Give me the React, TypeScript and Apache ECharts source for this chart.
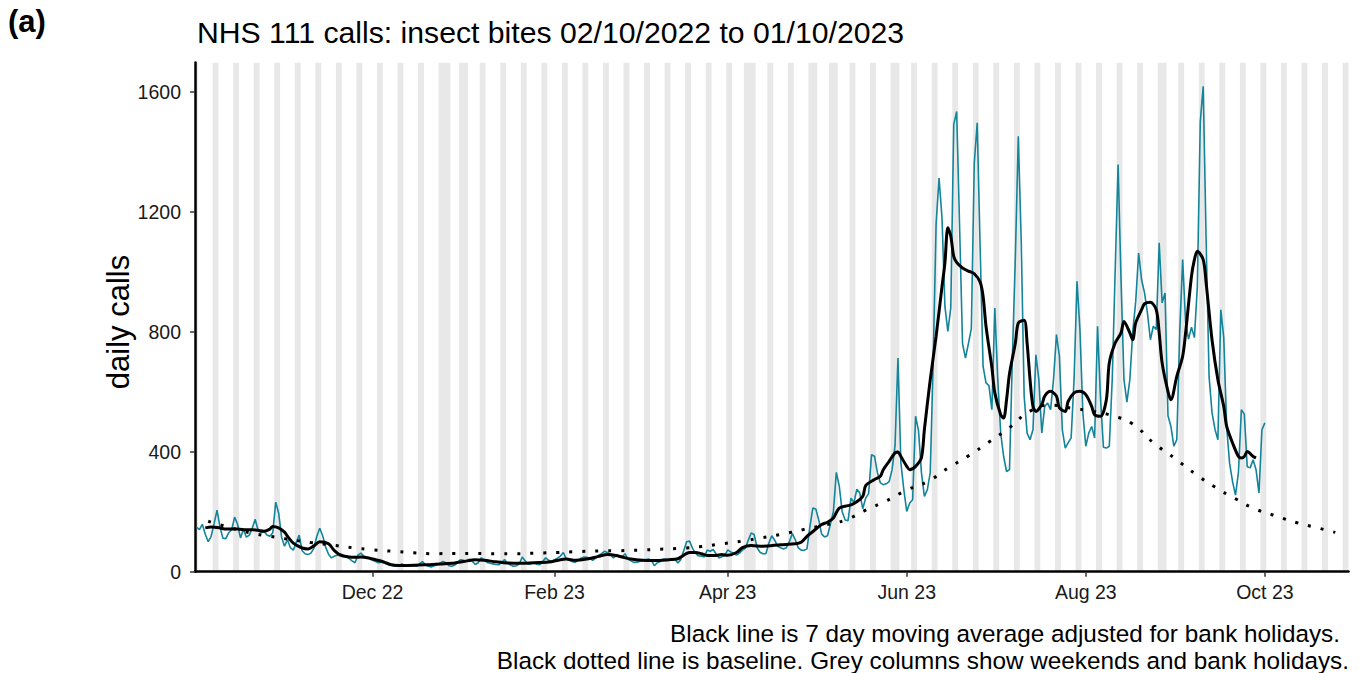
import React, { useEffect, useRef } from "react";
import * as echarts from "echarts";

// ---------- DATA ----------
const START_DATE = "2022-10-02"; // first daily value
const X_MIN = "2022-10-01T12:00:00Z";
const X_MAX = "2023-10-29T12:00:00Z";
const COLUMN_END = "2023-10-29";

// NHS 111 daily calls (teal), one value per day from START_DATE
const dailyCalls = [
  149, 140, 158, 125, 100, 118, 160,
  205, 150, 112, 110, 130, 140, 182,
  158, 112, 142, 115, 122, 145, 175,
  138, 130, 135, 122, 118, 130, 232,
  195, 115, 85, 107, 80, 72, 98,
  122, 70, 60, 57, 62, 78, 118,
  145, 120, 82, 58, 46, 52, 55,
  60, 55, 50, 44, 36, 30, 55,
  62, 52, 48, 44, 38, 34, 30,
  32, 28, 25, 22, 20, 18, 22,
  26, 20, 18, 21, 20, 18, 26,
  34, 22, 18, 16, 20, 24, 28,
  34, 30, 20, 18, 22, 32, 40,
  38, 35, 42, 35, 24, 30, 46,
  40, 31, 28, 26, 24, 23, 32,
  40, 28, 22, 18, 20, 26, 49,
  36, 25, 27, 29, 25, 23, 35,
  46, 38, 34, 40, 45, 52, 64,
  42, 38, 34, 31, 38, 45, 49,
  48, 44, 38, 45, 55, 60, 68,
  64, 58, 46, 53, 50, 49, 60,
  42, 36, 31, 32, 34, 36, 40,
  42, 38, 20, 30, 34, 42, 41,
  40, 40, 42, 29, 40, 70, 100,
  102, 78, 62, 53, 52, 49, 72,
  68, 74, 60, 46, 50, 54, 73,
  66, 62, 55, 62, 72, 78, 105,
  129, 124, 80, 65, 60, 60, 95,
  120, 105, 85, 80, 76, 80, 100,
  127, 107, 80, 72, 71, 76, 150,
  212, 209, 173, 125, 116, 120, 160,
  200, 331, 285, 200, 172, 170, 245,
  230, 275, 262, 210, 245, 260, 390,
  385, 330, 296, 290, 293, 300, 340,
  420, 712, 362, 273, 201, 229, 240,
  518, 470, 330, 251, 273, 330, 700,
  1160, 1312, 1180, 884, 801, 880, 1490,
  1534, 1150, 760, 712, 760, 810, 1362,
  1496, 1080, 684, 629, 620, 540, 879,
  640, 462, 384, 334, 340, 720, 1050,
  1451, 1100, 584, 462, 440, 473, 723,
  640, 462, 551, 562, 540, 640, 790,
  718, 473, 412, 430, 446, 640, 968,
  807, 529, 418, 462, 484, 446, 818,
  580, 415, 412, 418, 640, 1000, 1357,
  973, 640, 565, 640, 800, 900, 1062,
  973, 930, 862, 773, 818, 807, 1096,
  896, 929, 520, 484, 418, 440, 800,
  1040, 830, 775, 815, 780, 950, 1500,
  1618, 1100, 650, 530, 475, 440, 873,
  780, 480, 360, 300, 255, 330, 540,
  525, 350, 346, 373, 340, 262, 473,
  496,
];

// 7 day moving average (black line): [day offset from START_DATE, value]
const movingAverage: [number, number][] = [
  [3, 146], [5, 149], [8, 146], [10, 142], [12, 142], [14, 142], [17, 140], [19, 140],
  [21, 138], [23, 135], [25, 142], [26, 151], [28, 146], [30, 132], [31, 118], [33, 95],
  [36, 79], [38, 76], [40, 86], [42, 100], [45, 93], [47, 70], [49, 55], [52, 49],
  [54, 48], [56, 49], [59, 45], [61, 40], [64, 32], [66, 24], [69, 21], [72, 21],
  [78, 23], [83, 26], [88, 29], [91, 34], [95, 40], [98, 38], [102, 33], [106, 29],
  [111, 28], [115, 30], [120, 32], [124, 40], [126, 42], [129, 38], [133, 42], [137, 51],
  [140, 57], [143, 54], [145, 49], [148, 42], [152, 38], [156, 37], [161, 40], [164, 43],
  [165, 49], [168, 64], [170, 64], [172, 60], [174, 54], [177, 54], [179, 57], [181, 55],
  [184, 64], [186, 80], [189, 87], [193, 85], [199, 90], [204, 93], [206, 98], [208, 118],
  [210, 134], [213, 157], [215, 165], [217, 179], [219, 212], [222, 220], [224, 227], [227, 251],
  [228, 287], [231, 307], [233, 318], [234, 340], [236, 368], [238, 396], [239, 399], [240, 384],
  [242, 351], [243, 340], [245, 351], [247, 380], [248, 473], [250, 640], [252, 785], [254, 950],
  [255, 1029], [256, 1146], [257, 1118], [258, 1051], [259, 1031], [261, 1012], [263, 1002], [265, 993],
  [267, 965], [268, 918], [269, 818], [271, 680], [272, 596], [274, 523], [275, 512], [276, 573],
  [277, 660], [279, 762], [280, 829], [282, 838], [283, 762], [284, 640], [285, 551], [286, 534],
  [288, 557], [289, 585], [291, 601], [293, 585], [294, 546], [296, 534], [297, 568], [299, 596],
  [301, 601], [303, 590], [305, 551], [306, 523], [308, 518], [310, 573], [311, 696], [313, 762],
  [315, 796], [316, 834], [318, 796], [319, 773], [320, 829], [322, 873], [323, 893], [325, 898],
  [327, 873], [328, 796], [329, 696], [331, 600], [332, 573], [334, 651], [336, 718], [337, 796],
  [339, 984], [340, 1040], [341, 1068], [343, 1040], [344, 962], [346, 773], [348, 640], [350, 551],
  [351, 484], [353, 429], [355, 384], [356, 379], [357, 384], [358, 401], [360, 384], [361, 379],
];

// baseline (black dotted line): [day offset from START_DATE, value]
const baseline: [number, number][] = [
  [4, 168], [11, 148], [18, 130], [25, 118], [32, 107], [39, 97], [46, 89], [53, 80],
  [60, 73], [67, 68], [74, 63], [81, 60], [88, 61], [95, 61], [102, 60], [109, 60],
  [116, 62], [123, 64], [130, 67], [137, 69], [144, 70], [151, 72], [158, 75], [165, 78],
  [172, 84], [179, 93], [186, 102], [193, 114], [200, 126], [207, 141], [214, 155], [221, 172],
  [228, 205], [235, 236], [242, 272], [249, 300], [256, 345], [263, 386], [270, 432], [277, 480],
  [284, 535], [291, 555], [298, 545], [305, 535], [312, 520], [319, 492], [326, 430], [333, 380],
  [340, 328], [347, 282], [354, 243], [361, 208], [368, 185], [375, 163], [382, 146], [388, 131],
];

const bankHolidays = [
  "2022-12-26", "2022-12-27", "2023-01-02", "2023-04-07", "2023-04-10",
  "2023-05-01", "2023-05-08", "2023-05-29", "2023-08-28",
];

const xTickDates = ["2022-12-01", "2023-02-01", "2023-04-01", "2023-06-01", "2023-08-01", "2023-10-01"];
const xTickLabels = ["Dec 22", "Feb 23", "Apr 23", "Jun 23", "Aug 23", "Oct 23"];
const yTicks = [0, 400, 800, 1200, 1600];
const Y_MAX = 1697;

const TITLE = "NHS 111 calls: insect bites 02/10/2022 to 01/10/2023";
const PANEL = "(a)";
const Y_NAME = "daily calls";
const NOTE1 = "Black line is 7 day moving average adjusted for bank holidays.";
const NOTE2 = "Black dotted line is baseline. Grey columns show weekends and bank holidays.";

// ---------- HELPERS ----------
const DAY = 86400000;
const t0 = Date.parse(START_DATE);
const dayTs = (d: number) => t0 + d * DAY;

function weekendSpans(): [number, number][] {
  const bh = new Set(bankHolidays.map((s) => Date.parse(s)));
  const end = Date.parse(COLUMN_END);
  const spans: [number, number][] = [];
  let cur: [number, number] | null = null;
  for (let t = t0; t <= end; t += DAY) {
    const wd = new Date(t).getUTCDay();
    const grey = wd === 0 || wd === 6 || bh.has(t);
    if (grey) {
      if (cur && cur[1] === t - DAY / 2) cur[1] = t + DAY / 2;
      else {
        cur = [t - DAY / 2, t + DAY / 2];
        spans.push(cur);
      }
    }
  }
  return spans;
}

const FONT = "'Liberation Sans', Arial, Helvetica, sans-serif";

export default function App() {
  const ref = useRef<HTMLDivElement>(null);
  useEffect(() => {
    document.body.style.margin = "0";
    if (!ref.current) return;
    const chart = echarts.init(ref.current, undefined, { renderer: "svg" });
    const xTickTs = xTickDates.map((s) => Date.parse(s));

    const option: any = {
      animation: false,
      backgroundColor: "#ffffff",
      textStyle: { fontFamily: FONT },
      grid: { left: 195, right: 13.5, top: 62.5, bottom: 101.3, containLabel: false },
      xAxis: {
        type: "value",
        min: Date.parse(X_MIN),
        max: Date.parse(X_MAX),
        splitLine: { show: false },
        axisLine: { show: true, onZero: false, lineStyle: { color: "#000", width: 2.5 } },
        axisTick: {
          show: true,
          customValues: xTickTs,
          length: 5,
          lineStyle: { color: "#333", width: 1.5 },
        },
        axisLabel: {
          show: true,
          customValues: xTickTs,
          margin: 10,
          fontSize: 19.5,
          color: "#1a1a1a",
          fontFamily: FONT,
          formatter: (v: number) => {
            const i = xTickTs.findIndex((t) => Math.abs(t - v) < DAY / 2);
            return i >= 0 ? xTickLabels[i] : "";
          },
        },
      },
      yAxis: {
        type: "value",
        min: 0,
        max: Y_MAX,
        splitLine: { show: false },
        axisLine: { show: true, onZero: false, lineStyle: { color: "#000", width: 2.5 } },
        axisTick: {
          show: true,
          customValues: yTicks,
          length: 5,
          lineStyle: { color: "#333", width: 1.5 },
        },
        axisLabel: {
          show: true,
          customValues: yTicks,
          margin: 14,
          fontSize: 19.5,
          color: "#1a1a1a",
          fontFamily: FONT,
          formatter: (v: number) => String(Math.round(v)),
        },
      },
      series: [
        {
          type: "custom",
          name: "weekends",
          z: 0,
          silent: true,
          clip: true,
          encode: { x: [0, 1] },
          data: weekendSpans(),
          renderItem: (params: any, api: any) => {
            const a = api.coord([api.value(0), 0]);
            const b = api.coord([api.value(1), 0]);
            const cs = params.coordSys;
            return {
              type: "rect",
              shape: { x: a[0], y: cs.y, width: b[0] - a[0], height: cs.height },
              style: { fill: "#e8e8e8" },
            };
          },
        },
        {
          type: "line",
          name: "daily calls",
          z: 2,
          showSymbol: false,
          data: dailyCalls.map((v, i) => [dayTs(i), v]),
          lineStyle: { color: "#13849a", width: 1.6 },
        },
        {
          type: "line",
          name: "baseline",
          z: 3,
          showSymbol: false,
          smooth: 0.5,
          data: baseline.map(([d, v]) => [dayTs(d), v]),
          lineStyle: { color: "#000", width: 3, type: [3, 10] },
        },
        {
          type: "line",
          name: "7 day moving average",
          z: 4,
          showSymbol: false,
          smooth: 0.3,
          data: movingAverage.map(([d, v]) => [dayTs(d), v]),
          lineStyle: { color: "#000", width: 3 },
        },
      ],
      graphic: [
        {
          type: "text",
          x: 8,
          y: 21,
          style: { text: PANEL, fill: "#000", font: `bold 31px ${FONT}`, verticalAlign: "middle" },
        },
        {
          type: "text",
          x: 197,
          y: 32,
          style: { text: TITLE, fill: "#000", font: `30.2px ${FONT}`, verticalAlign: "middle" },
        },
        {
          type: "text",
          x: 118,
          y: 322,
          rotation: Math.PI / 2,
          style: { text: Y_NAME, fill: "#000", font: `31px ${FONT}`, align: "center", verticalAlign: "middle" },
        },
        {
          type: "text",
          x: 1340,
          y: 633,
          style: { text: NOTE1, fill: "#000", font: `24.3px ${FONT}`, align: "right", verticalAlign: "middle" },
        },
        {
          type: "text",
          x: 1349,
          y: 660,
          style: { text: NOTE2, fill: "#000", font: `24.3px ${FONT}`, align: "right", verticalAlign: "middle" },
        },
      ],
    };
    chart.setOption(option);
    return () => chart.dispose();
  }, []);
  return <div ref={ref} style={{ width: 1362, height: 673 }} />;
}
